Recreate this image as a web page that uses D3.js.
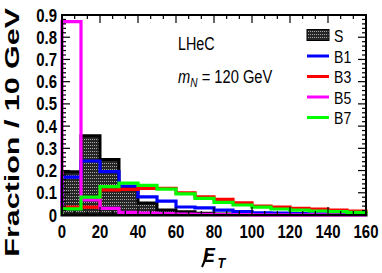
<!DOCTYPE html>
<meta charset="utf-8">
<style>
    body { margin: 0; background: #fff; }
    text { font-family: "Liberation Sans", Arial, sans-serif; }
    .hist { fill: none; stroke-width: 3.2px; }
</style>
<svg width="382" height="273"></svg>
<script src="https://d3js.org/d3.v7.min.js"></script>
<script>

    // bins of 10 GeV from 0 to 160
    var binEdges = d3.range(0, 170, 10);
    var sigS = [0.195, 0.357, 0.25, 0.12, 0.054, 0.022, 0.015, 0.008, 0.005, 0.003, 0.002, 0.001, 0.001, 0.0005, 0.0005, 0.0003];
    var bkgB1 = [0.17, 0.243, 0.195, 0.13, 0.082, 0.062, 0.036, 0.032, 0.022, 0.015, 0.01, 0.008, 0.006, 0.005, 0.004, 0.003];
    var bkgB3 = [0.035, 0.035, 0.113, 0.115, 0.12, 0.12, 0.1, 0.082, 0.07, 0.055, 0.04, 0.035, 0.03, 0.027, 0.022, 0.018];
    var bkgB5 = [0.87, 0.068, 0.03, 0.012, 0.008, 0.006, 0.004, 0.003, 0.002, 0.002, 0.001, 0.001, 0.001, 0.001, 0.001, 0.001];
    var bkgB7 = [0.028, 0.08, 0.128, 0.143, 0.133, 0.116, 0.095, 0.075, 0.057, 0.045, 0.035, 0.027, 0.022, 0.018, 0.015, 0.012];

    var xTicks = [0, 20, 40, 60, 80, 100, 120, 140, 160];
    var yTicks = [0, 0.1, 0.2, 0.3, 0.4, 0.5, 0.6, 0.7, 0.8, 0.9];

    var lines = [
        {name: "B1", values: bkgB1, color: "#0000ff"},
        {name: "B3", values: bkgB3, color: "#ff0000"},
        {name: "B5", values: bkgB5, color: "#ff00ff"},
        {name: "B7", values: bkgB7, color: "#00ff00"}
    ];

    var svg = d3.select("svg");
    var x = d3.scaleLinear().domain([0, 160]).range([62, 366]);
    var y = d3.scaleLinear().domain([0, 0.9]).range([215, 15]);

    // ROOT style hatch for the signal
    var pat = svg.append("defs").append("pattern")
        .attr("id", "hatch")
        .attr("patternUnits", "userSpaceOnUse")
        .attr("width", 2).attr("height", 3);
    pat.append("rect").attr("width", 2).attr("height", 3).attr("fill", "#262626");
    pat.append("rect").attr("x", 0).attr("y", 1).attr("width", 1).attr("height", 1).attr("fill", "#a8a8a8");

    function stepPath(vals) {
        var p = d3.path();
        p.moveTo(x(0), y(0));
        vals.forEach(function (v, i) {
            p.lineTo(x(binEdges[i]), y(v));
            p.lineTo(x(binEdges[i + 1]), y(v));
        });
        p.lineTo(x(160), y(0));
        return p.toString();
    }

    // signal filled histogram
    svg.append("path")
        .attr("d", stepPath(sigS) + "Z")
        .attr("fill", "url(#hatch)")
        .attr("stroke", "#000")
        .attr("stroke-width", 3);

    svg.append("g").selectAll("path")
        .data(lines)
        .enter().append("path")
        .attr("class", "hist")
        .attr("d", function (d) { return stepPath(d.values); })
        .attr("stroke", function (d) { return d.color; });

    // frame
    svg.append("rect")
        .attr("x", x(0)).attr("y", y(0.9))
        .attr("width", x(160) - x(0)).attr("height", y(0) - y(0.9))
        .attr("fill", "none").attr("stroke", "#000").attr("stroke-width", 2);

    // ticks on all four sides
    var ticksG = svg.append("g").attr("stroke", "#000").attr("stroke-width", 1.2);
    var yMinor = d3.range(0, 0.9001, 0.02);
    ticksG.selectAll(".yl").data(yMinor).enter().append("line")
        .attr("x1", x(0)).attr("x2", function (d, i) { return x(0) + (i % 5 === 0 ? 8 : 4); })
        .attr("y1", function (d) { return y(d); }).attr("y2", function (d) { return y(d); });
    ticksG.selectAll(".yr").data(yMinor).enter().append("line")
        .attr("x1", x(160)).attr("x2", function (d, i) { return x(160) - (i % 5 === 0 ? 8 : 4); })
        .attr("y1", function (d) { return y(d); }).attr("y2", function (d) { return y(d); });
    var xMinor = d3.range(0, 160.01, 20 / 3);
    ticksG.selectAll(".xt").data(xMinor).enter().append("line")
        .attr("x1", function (d) { return x(d); }).attr("x2", function (d) { return x(d); })
        .attr("y1", y(0.9)).attr("y2", function (d, i) { return y(0.9) + (i % 3 === 0 ? 8 : 4); });
    ticksG.selectAll(".xb").data(xMinor).enter().append("line")
        .attr("x1", function (d) { return x(d); }).attr("x2", function (d) { return x(d); })
        .attr("y1", y(0)).attr("y2", function (d, i) { return y(0) - (i % 3 === 0 ? 8 : 4); });

    // tick labels
    svg.append("g").selectAll("text").data(yTicks).enter().append("text")
        .attr("transform", function (d) { return "translate(57," + (y(d) + 6.5) + ") scale(0.83,1)"; })
        .attr("text-anchor", "end")
        .attr("font-weight", "bold").attr("font-size", 18)
        .text(function (d) { return d === 0 ? "0" : d3.format(".1f")(d); });

    svg.append("g").selectAll("text").data(xTicks).enter().append("text")
        .attr("transform", function (d) { return "translate(" + x(d) + ",238) scale(0.83,1)"; })
        .attr("text-anchor", "middle")
        .attr("font-weight", "bold").attr("font-size", 18)
        .text(function (d) { return d; });

    // axis titles
    svg.append("text")
        .attr("transform", "translate(19,8) rotate(-90) scale(1.45,1)")
        .attr("text-anchor", "end")
        .attr("font-weight", "bold").attr("font-size", 21)
        .text("Fraction / 10 GeV");

    // missing E_T : E with a slash stroke
    var xt = svg.append("g").attr("transform", "translate(203,262) scale(0.85,1)");
    xt.append("text").attr("font-weight", "bold").attr("font-style", "italic").attr("font-size", 21).text("E");
    xt.append("text").attr("x", 17).attr("y", 6).attr("font-weight", "bold").attr("font-style", "italic").attr("font-size", 15).text("T");
    svg.append("line")
        .attr("x1", 202).attr("y1", 267).attr("x2", 208).attr("y2", 253)
        .attr("stroke", "#000").attr("stroke-width", 2);

    // labels
    svg.append("text")
        .attr("transform", "translate(178,50) scale(0.82,1)")
        .attr("font-size", 17.5).text("LHeC");
    var mt = svg.append("text")
        .attr("transform", "translate(178,83) scale(0.84,1)")
        .attr("font-size", 17.5);
    mt.append("tspan").attr("font-style", "italic").text("m");
    mt.append("tspan").attr("font-style", "italic").attr("font-size", 12).attr("dy", 4).text("N");
    mt.append("tspan").attr("dy", -4).text(" = 120 GeV");

    // legend
    var legY = [35, 56, 76.5, 97, 117.5];
    svg.append("rect")
        .attr("x", 307).attr("y", legY[0] - 5.5).attr("width", 22).attr("height", 11)
        .attr("fill", "url(#hatch)").attr("stroke", "#000").attr("stroke-width", 1);
    svg.append("text")
        .attr("transform", "translate(334," + (legY[0] + 6.5) + ") scale(0.88,1)")
        .attr("font-size", 16).text("S");
    lines.forEach(function (d, i) {
        svg.append("line")
            .attr("x1", 307).attr("x2", 329)
            .attr("y1", legY[i + 1]).attr("y2", legY[i + 1])
            .attr("stroke", d.color).attr("stroke-width", 3);
        svg.append("text")
            .attr("transform", "translate(334," + (legY[i + 1] + 6.5) + ") scale(0.88,1)")
            .attr("font-size", 16).text(d.name);
    });

</script>
